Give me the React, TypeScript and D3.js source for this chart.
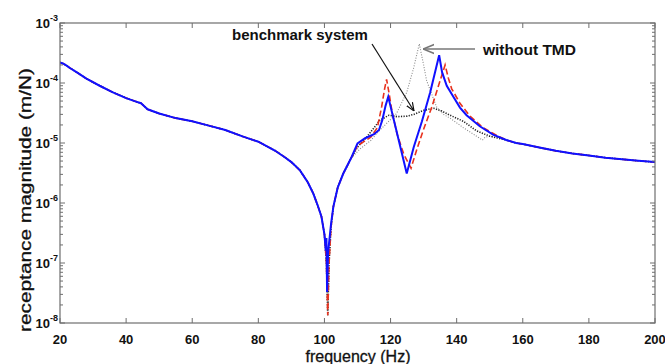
import React from "react";
import * as d3 from "d3";

const W = 665;
const H = 364;
const plot = { left: 60, right: 655, top: 23, bottom: 323 };

// frequency ticks (Hz) and receptance decades
const xTicks = [20, 40, 60, 80, 100, 120, 140, 160, 180, 200];
const yExponents = [-8, -7, -6, -5, -4, -3];

// shared part of all curves below the first antiresonance
const commonLow: [number, number][] = [
  [20, 2.2e-4], [21, 2.1e-4], [22, 1.95e-4], [23, 1.78e-4], [25, 1.52e-4],
  [28, 1.18e-4], [32, 9.0e-5], [36, 7.0e-5], [40, 5.6e-5], [43, 4.9e-5],
  [44.5, 4.6e-5], [45.5, 4.1e-5], [46.5, 3.65e-5], [50, 3.1e-5], [55, 2.6e-5],
  [60, 2.3e-5], [65, 1.95e-5], [70, 1.65e-5], [75, 1.3e-5], [80, 1.05e-5],
  [85, 7.5e-6], [88, 5.8e-6], [90, 4.8e-6], [92.6, 3.5e-6], [95, 2.2e-6],
  [96.6, 1.45e-6], [98, 9e-7], [99.1, 5.9e-7], [100, 3e-7],
];
const dipDeep: [number, number][] = [
  [100.6, 1e-7], [101, 1.35e-8], [101.4, 1e-7], [102, 4e-7],
];
const dipBlue: [number, number][] = [
  [100.4, 1.6e-7], [100.6, 2.6e-7], [100.8, 3.3e-8], [101.1, 1.5e-7], [102, 4.5e-7],
];
const commonRise: [number, number][] = [
  [102.7, 8.7e-7], [104, 1.8e-6], [105.7, 3.1e-6], [108, 5.5e-6],
];
const commonHigh: [number, number][] = [
  [155, 1.12e-5], [158, 1.0e-5], [160, 9.6e-6], [165, 8.4e-6], [170, 7.4e-6],
  [175, 6.7e-6], [180, 6.2e-6], [185, 5.7e-6], [190, 5.35e-6], [195, 5.05e-6],
  [200, 4.8e-6],
];

// series-specific resonance regions
const blueMid: [number, number][] = [
  [110, 9.8e-6], [112.3, 1.2e-5], [115, 1.4e-5], [116.5, 1.65e-5], [117.5, 2.4e-5],
  [118.5, 4.2e-5], [119.3, 5.9e-5], [124.9, 3.1e-6], [127, 8.5e-6], [129.5, 2.3e-5],
  [132, 7e-5], [134.7, 2.9e-4], [135.6, 1.5e-4], [137, 9e-5], [139, 5.9e-5],
  [141, 3.9e-5], [143, 2.9e-5], [147, 1.9e-5], [151, 1.38e-5],
];
const redMid: [number, number][] = [
  [110, 9e-6], [114, 1.25e-5], [116, 1.8e-5], [117.3, 4e-5], [118.2, 8e-5],
  [118.8, 1.15e-4], [119.6, 6.5e-5], [120.5, 3.2e-5], [122, 1.4e-5], [124, 6.5e-6],
  [126.2, 3.8e-6], [128, 8e-6], [130, 1.7e-5], [132.5, 4e-5], [134.5, 9e-5],
  [136.5, 2e-4], [137.5, 1.2e-4], [138.5, 8e-5], [141, 4.6e-5], [144, 2.8e-5],
  [148, 1.8e-5], [152, 1.35e-5],
];
const benchMid: [number, number][] = [
  [110, 8.5e-6], [113, 1.3e-5], [116.8, 2.4e-5], [119.5, 2.9e-5], [122, 2.75e-5],
  [125, 2.8e-5], [127, 3e-5], [130, 3.5e-5], [133, 3.8e-5], [135.5, 3.4e-5],
  [138, 2.9e-5], [142, 2.3e-5], [146, 1.6e-5], [150, 1.3e-5],
];
const noTmdMid: [number, number][] = [
  [110.8, 8e-6], [114, 1.1e-5], [116.8, 1.65e-5], [119.8, 2.4e-5], [121.8, 3.1e-5],
  [124.9, 7e-5], [127, 1.8e-4], [128.7, 4.5e-4], [130, 2e-4], [130.9, 1.1e-4],
  [133.9, 4e-5], [136, 3e-5], [138, 2.6e-5], [142, 1.8e-5], [146, 1.3e-5],
  [147.8, 1.12e-5], [148.6, 1.25e-5], [150, 1.3e-5],
];

const blue = [...commonLow, ...dipBlue, ...commonRise, ...blueMid, ...commonHigh];
const red = [...commonLow, ...dipDeep, ...commonRise, ...redMid, ...commonHigh];
const bench = [...commonLow, ...dipDeep, ...commonRise, ...benchMid, ...commonHigh];
const noTmd = [...commonLow, ...dipDeep, ...commonRise, ...noTmdMid, ...commonHigh];

const x = d3.scaleLinear().domain([20, 200]).range([plot.left, plot.right]);
const y = d3.scaleLog().domain([1e-8, 1e-3]).range([plot.bottom, plot.top]);
const line = d3
  .line<[number, number]>()
  .x((d) => x(d[0]))
  .y((d) => y(d[1]));

const minorY = y.ticks().filter((v) => {
  const m = v / Math.pow(10, Math.floor(Math.log10(v) + 1e-9));
  return Math.abs(m - 1) > 1e-6;
});

const font = "Arial, 'Liberation Sans', Helvetica, sans-serif";
const axisColor = "#6e6e6e";

export default function App() {
  return (
    <svg width={W} height={H} style={{ position: "absolute", left: 0, top: 0, background: "#fff" }} fontFamily={font}>
      <defs>
        <clipPath id="plotClip">
          <rect x={plot.left} y={plot.top} width={plot.right - plot.left} height={plot.bottom - plot.top} />
        </clipPath>
        <marker id="arrBlack" viewBox="0 0 10 10" refX="10" refY="5" markerWidth="7" markerHeight="7" orient="auto">
          <path d="M0,1 L10,5 L0,9" fill="none" stroke="#111" strokeWidth="1.4" />
        </marker>
        <marker id="arrGray" viewBox="0 0 10 10" refX="10" refY="5" markerWidth="7" markerHeight="7" orient="auto">
          <path d="M0,1 L10,5 L0,9" fill="none" stroke="#777" strokeWidth="1.4" />
        </marker>
      </defs>

      {/* curves */}
      <g clipPath="url(#plotClip)" fill="none">
        <path d={line(noTmd) ?? ""} stroke="#8a8a8a" strokeWidth={1.1} strokeDasharray="1,1.6" />
        <path d={line(bench) ?? ""} stroke="#222" strokeWidth={1.6} strokeDasharray="1.2,1.4" />
        <path d={line(red) ?? ""} stroke="#e8321e" strokeWidth={1.6} strokeDasharray="6,3" />
        <path d={line(blue) ?? ""} stroke="#1010ff" strokeWidth={2} />
      </g>

      {/* frame */}
      <rect x={plot.left} y={plot.top} width={plot.right - plot.left} height={plot.bottom - plot.top} fill="none" stroke={axisColor} strokeWidth={1.2} />

      {/* x ticks */}
      {xTicks.map((t) => (
        <g key={"x" + t}>
          <line x1={x(t)} x2={x(t)} y1={plot.bottom} y2={plot.bottom - 5} stroke={axisColor} />
          <line x1={x(t)} x2={x(t)} y1={plot.top} y2={plot.top + 5} stroke={axisColor} />
          <text x={x(t)} y={344} textAnchor="middle" fontSize={13} fontWeight="bold" fill="#111">
            {t}
          </text>
        </g>
      ))}

      {/* y ticks */}
      {yExponents.map((e) => {
        const yy = y(Math.pow(10, e));
        return (
          <g key={"y" + e}>
            <line x1={plot.left} x2={plot.left + 5} y1={yy} y2={yy} stroke={axisColor} />
            <line x1={plot.right} x2={plot.right - 5} y1={yy} y2={yy} stroke={axisColor} />
            <text x={50} y={yy + 5} textAnchor="end" fontSize={13} fontWeight="bold" fill="#111">
              10
            </text>
            <text x={50} y={yy - 2} fontSize={9} fontWeight="bold" fill="#111">
              {e}
            </text>
          </g>
        );
      })}
      {minorY.map((v, i) => (
        <g key={"m" + i}>
          <line x1={plot.left} x2={plot.left + 3} y1={y(v)} y2={y(v)} stroke={axisColor} />
          <line x1={plot.right} x2={plot.right - 3} y1={y(v)} y2={y(v)} stroke={axisColor} />
        </g>
      ))}

      {/* axis titles */}
      <text x={358} y={362} textAnchor="middle" fontSize={16} fill="#111" stroke="#111" strokeWidth={0.3}>
        frequency (Hz)
      </text>
      <text
        transform="translate(31,200) rotate(-90)"
        textAnchor="middle"
        fontSize={16}
        fill="#111"
        stroke="#111"
        strokeWidth={0.3}
        textLength={264}
        lengthAdjust="spacingAndGlyphs"
      >
        receptance magnitude (m/N)
      </text>

      {/* annotations */}
      <text x={232} y={40} fontSize={15} fontWeight="bold" fill="#111">
        benchmark system
      </text>
      <line x1={372} y1={44} x2={414} y2={111} stroke="#111" strokeWidth={1.2} markerEnd="url(#arrBlack)" />
      <text x={483} y={55} fontSize={15.5} fontWeight="bold" fill="#111">
        without TMD
      </text>
      <line x1={475} y1={49} x2={423} y2={49} stroke="#777" strokeWidth={1.6} markerEnd="url(#arrGray)" />
    </svg>
  );
}
